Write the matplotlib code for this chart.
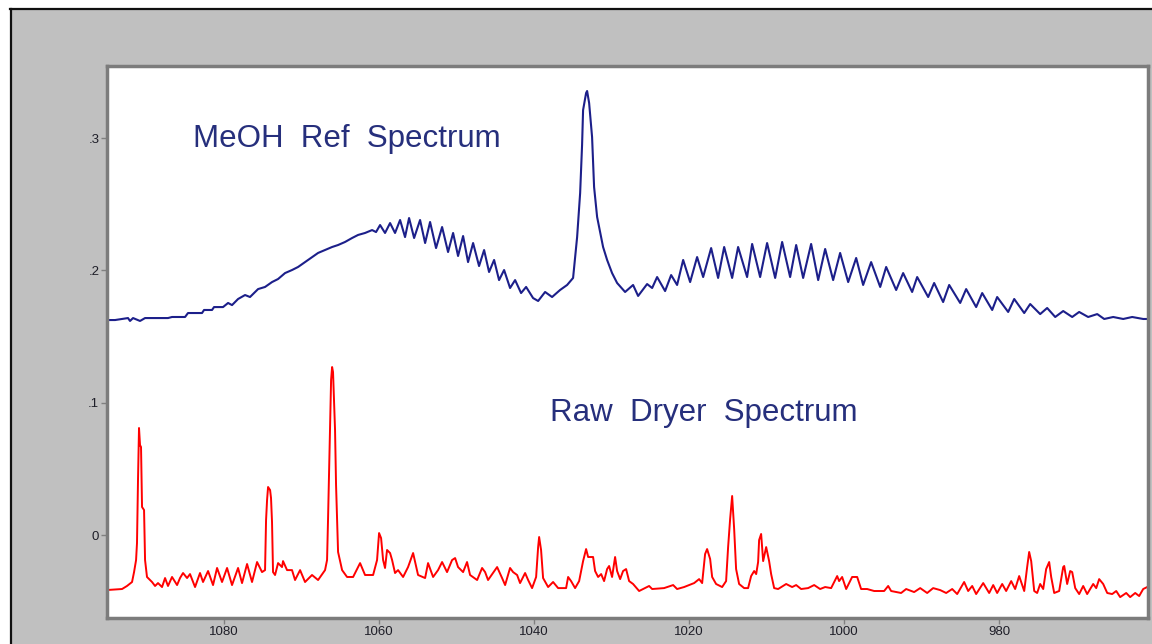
import matplotlib.pyplot as plt
from matplotlib.lines import Line2D
from matplotlib.patches import Rectangle

# MeOH reference spectrum (wavenumber, absorbance)
meoh_wn = [
    1095.23, 1094.06, 1092.39, 1092.13, 1091.74, 1090.84, 1090.19, 1087.23, 1086.71, 1085.03,
    1084.65, 1082.84, 1082.58, 1081.55, 1081.29, 1080.13, 1079.48, 1078.97, 1078.19, 1077.29,
    1076.65, 1075.61, 1074.71, 1073.81, 1073.03, 1072.13, 1071.23, 1070.45, 1069.55, 1068.65,
    1067.87, 1066.97, 1066.06, 1065.29, 1064.39, 1063.48, 1062.71, 1061.81, 1060.90, 1060.39,
    1059.87, 1059.23, 1058.58, 1057.94, 1057.29, 1056.65, 1056.13, 1055.48, 1054.71, 1054.06,
    1053.42, 1052.65, 1051.87, 1051.10, 1050.45, 1049.81, 1049.16, 1048.52, 1047.87, 1047.10,
    1046.45, 1045.81, 1045.16, 1044.52, 1043.87, 1043.10, 1042.45, 1041.68, 1041.03, 1040.13,
    1039.48, 1038.58, 1037.68, 1036.65, 1035.74, 1034.97, 1034.45, 1034.06, 1033.81, 1033.68,
    1033.29, 1033.16, 1032.90, 1032.52, 1032.26, 1031.87, 1031.48, 1031.10, 1030.58, 1029.94,
    1029.29, 1028.26, 1027.23, 1026.58, 1025.42, 1024.77, 1024.13, 1023.10, 1022.32, 1021.55,
    1020.77, 1019.87, 1018.97, 1018.19, 1017.16, 1016.26, 1015.48, 1014.45, 1013.68, 1012.52,
    1011.87, 1010.84, 1009.94, 1008.90, 1008.00, 1006.97, 1006.19, 1005.29, 1004.26, 1003.35,
    1002.45, 1001.42, 1000.52, 999.48, 998.45, 997.55, 996.52, 995.35, 994.58, 993.29,
    992.39, 991.23, 990.58, 989.16, 988.39, 987.23, 986.45, 985.03, 984.26, 982.97,
    982.19, 980.90, 980.26, 978.84, 978.06, 976.77, 976.00, 974.71, 973.81, 972.77,
    971.74, 970.58, 969.68, 968.52, 967.35, 966.45, 965.29, 964.00, 962.84, 961.42,
    960.77,
]
meoh_abs = [
    0.1625, 0.1625, 0.1640, 0.1618, 0.1640, 0.1618, 0.1640, 0.1640, 0.1648, 0.1648,
    0.1678, 0.1678, 0.1701, 0.1701, 0.1723, 0.1723, 0.1754, 0.1738, 0.1784, 0.1814,
    0.1799, 0.1859, 0.1875, 0.1912, 0.1935, 0.1980, 0.2003, 0.2026, 0.2063, 0.2101,
    0.2132, 0.2154, 0.2177, 0.2192, 0.2215, 0.2245, 0.2268, 0.2283, 0.2305, 0.2290,
    0.2343, 0.2283, 0.2358, 0.2283, 0.2381, 0.2252, 0.2396, 0.2245, 0.2381, 0.2207,
    0.2366, 0.2169, 0.2328, 0.2139, 0.2283, 0.2109, 0.2260, 0.2063, 0.2207, 0.2033,
    0.2154, 0.1988, 0.2079, 0.1927, 0.2003, 0.1867, 0.1927, 0.1829, 0.1875, 0.1791,
    0.1769, 0.1837, 0.1799, 0.1852, 0.1890, 0.1943, 0.2252, 0.2585, 0.2948, 0.3212,
    0.3341, 0.3356, 0.3265, 0.3008, 0.2630, 0.2404, 0.2290, 0.2177, 0.2079, 0.1980,
    0.1905, 0.1837, 0.1890, 0.1807, 0.1897, 0.1867, 0.1950, 0.1844, 0.1965, 0.1890,
    0.2079, 0.1912, 0.2101, 0.1950, 0.2169, 0.1943, 0.2177, 0.1943, 0.2177, 0.1950,
    0.2200, 0.1950, 0.2207, 0.1943, 0.2215, 0.1950, 0.2192, 0.1943, 0.2200, 0.1927,
    0.2162, 0.1927, 0.2132, 0.1912, 0.2094, 0.1890, 0.2063, 0.1875, 0.2026, 0.1852,
    0.1980, 0.1837, 0.1950, 0.1799, 0.1905, 0.1761, 0.1890, 0.1754, 0.1859, 0.1723,
    0.1829, 0.1701, 0.1799, 0.1686, 0.1784, 0.1678, 0.1746, 0.1670, 0.1716, 0.1648,
    0.1693, 0.1648, 0.1686, 0.1648, 0.1670, 0.1633, 0.1648, 0.1633, 0.1648, 0.1633,
    0.1633,
]

# Raw dryer spectrum (wavenumber, absorbance)
dryer_wn = [
    1095.23, 1093.16, 1092.52, 1091.87, 1091.61, 1091.35, 1091.23, 1091.10, 1090.97, 1090.84,
    1090.71, 1090.58, 1090.32, 1090.19, 1089.94, 1089.55, 1089.29, 1088.90, 1088.52, 1088.00,
    1087.61, 1087.23, 1086.71, 1086.06, 1085.68, 1085.29, 1084.77, 1084.39, 1083.74, 1083.10,
    1082.71, 1082.06, 1081.42, 1080.90, 1080.26, 1079.61, 1078.97, 1078.19, 1077.68, 1077.03,
    1076.39, 1075.74, 1075.10, 1074.71, 1074.58, 1074.45, 1074.32, 1074.06, 1073.94, 1073.81,
    1073.68, 1073.42, 1073.03, 1072.52, 1072.39, 1071.87, 1071.23, 1070.84, 1070.19, 1069.55,
    1068.65, 1067.87, 1066.97, 1066.71, 1066.58, 1066.32, 1066.19, 1066.06, 1065.94, 1065.81,
    1065.68, 1065.55, 1065.29, 1064.77, 1064.13, 1063.35, 1062.45, 1061.81, 1060.77, 1060.26,
    1060.00, 1059.74, 1059.48, 1059.23, 1058.97, 1058.58, 1058.32, 1057.94, 1057.55, 1056.90,
    1056.26, 1055.61, 1054.97, 1054.06, 1053.68, 1053.03, 1052.39, 1051.87, 1051.23, 1050.58,
    1050.19, 1049.81, 1049.16, 1048.65, 1048.26, 1047.35, 1046.71, 1046.32, 1045.94, 1044.77,
    1044.13, 1043.74, 1043.10, 1042.71, 1042.19, 1041.81, 1041.16, 1040.77, 1040.26, 1039.74,
    1039.48, 1039.35, 1039.10, 1038.84, 1038.19, 1037.55, 1036.90, 1035.87, 1035.61, 1035.23,
    1034.71, 1034.19, 1033.94, 1033.68, 1033.29, 1033.03, 1032.39, 1032.13, 1031.74, 1031.35,
    1030.97, 1030.58, 1030.32, 1029.94, 1029.55, 1029.29, 1028.90, 1028.52, 1028.13, 1027.74,
    1027.23, 1026.45, 1025.16, 1024.77, 1023.23, 1022.06, 1021.55, 1020.65, 1019.35, 1018.71,
    1018.32, 1017.94, 1017.68, 1017.29, 1017.03, 1016.52, 1015.74, 1015.23, 1014.97, 1014.71,
    1014.45, 1014.19, 1013.94, 1013.55, 1012.90, 1012.39, 1012.00, 1011.61, 1011.35, 1011.10,
    1010.97, 1010.71, 1010.45, 1010.06, 1009.68, 1009.42, 1009.03, 1008.52, 1007.48, 1006.71,
    1006.19, 1005.55, 1004.65, 1003.87, 1003.10, 1002.45, 1001.68, 1000.90, 1000.65, 1000.26,
    999.74, 998.97, 998.32, 997.81, 997.03, 996.13, 994.84, 994.32, 993.94, 992.65,
    992.00, 990.97, 990.19, 989.29, 988.52, 987.61, 986.84, 986.06, 985.42, 984.52,
    984.00, 983.48, 982.97, 982.06, 981.29, 980.77, 980.26, 979.61, 979.10, 978.45,
    977.94, 977.42, 976.77, 976.39, 976.13, 975.87, 975.48, 975.10, 974.71, 974.32,
    973.94, 973.55, 973.29, 972.90, 972.26, 971.74, 971.61, 971.23, 970.84, 970.58,
    970.19, 969.68, 969.16, 968.65, 967.87, 967.48, 967.10, 966.58, 966.06, 965.42,
    964.90, 964.39, 963.61, 963.10, 962.45, 961.94, 961.42, 960.90,
]
dryer_abs = [
    -0.0416, -0.0408, -0.0385, -0.0355, -0.0280, -0.0189, -0.0060, 0.0416, 0.0809, 0.0680,
    0.0665, 0.0212, 0.0189, -0.0189, -0.0317, -0.0340, -0.0355, -0.0385, -0.0363, -0.0393,
    -0.0325, -0.0385, -0.0317, -0.0378, -0.0325, -0.0287, -0.0325, -0.0295, -0.0393, -0.0287,
    -0.0355, -0.0272, -0.0378, -0.0249, -0.0355, -0.0249, -0.0378, -0.0249, -0.0363, -0.0219,
    -0.0355, -0.0204, -0.0280, -0.0265, 0.0113, 0.0265, 0.0363, 0.0340, 0.0280, 0.0098,
    -0.0280, -0.0302, -0.0212, -0.0242, -0.0197, -0.0265, -0.0265, -0.0340, -0.0265, -0.0355,
    -0.0302, -0.0340, -0.0265, -0.0189, 0.0128, 0.0831, 0.1172, 0.1270, 0.1232, 0.1020,
    0.0794, 0.0378, -0.0128, -0.0265, -0.0317, -0.0317, -0.0212, -0.0302, -0.0302, -0.0189,
    0.0015, -0.0023, -0.0189, -0.0249, -0.0113, -0.0136, -0.0189, -0.0287, -0.0265, -0.0317,
    -0.0242, -0.0136, -0.0302, -0.0325, -0.0212, -0.0317, -0.0265, -0.0204, -0.0280, -0.0189,
    -0.0174, -0.0242, -0.0280, -0.0204, -0.0302, -0.0340, -0.0249, -0.0280, -0.0340, -0.0242,
    -0.0325, -0.0378, -0.0249, -0.0280, -0.0302, -0.0363, -0.0287, -0.0340, -0.0401, -0.0317,
    -0.0091, -0.0015, -0.0113, -0.0325, -0.0393, -0.0355, -0.0401, -0.0401, -0.0317, -0.0348,
    -0.0401, -0.0348, -0.0272, -0.0197, -0.0106, -0.0166, -0.0166, -0.0272, -0.0317, -0.0295,
    -0.0348, -0.0257, -0.0234, -0.0317, -0.0166, -0.0272, -0.0333, -0.0272, -0.0257, -0.0348,
    -0.0370, -0.0423, -0.0385, -0.0408, -0.0401, -0.0378, -0.0408, -0.0393, -0.0363, -0.0333,
    -0.0363, -0.0144, -0.0106, -0.0181, -0.0317, -0.0370, -0.0393, -0.0348, -0.0091, 0.0121,
    0.0295, 0.0045, -0.0257, -0.0370, -0.0401, -0.0401, -0.0310, -0.0272, -0.0295, -0.0204,
    -0.0038, 0.0008, -0.0197, -0.0091, -0.0197, -0.0295, -0.0401, -0.0408, -0.0370, -0.0393,
    -0.0378, -0.0408, -0.0401, -0.0378, -0.0408, -0.0393, -0.0401, -0.0310, -0.0348, -0.0317,
    -0.0408, -0.0317, -0.0317, -0.0408, -0.0408, -0.0423, -0.0423, -0.0385, -0.0423, -0.0438,
    -0.0408, -0.0431, -0.0401, -0.0438, -0.0401, -0.0416, -0.0438, -0.0408, -0.0446, -0.0355,
    -0.0423, -0.0385, -0.0446, -0.0363, -0.0438, -0.0378, -0.0438, -0.0370, -0.0423, -0.0348,
    -0.0408, -0.0310, -0.0423, -0.0242, -0.0128, -0.0197, -0.0423, -0.0438, -0.0370, -0.0408,
    -0.0257, -0.0204, -0.0317, -0.0438, -0.0423, -0.0242, -0.0234, -0.0370, -0.0272, -0.0280,
    -0.0401, -0.0446, -0.0385, -0.0446, -0.0370, -0.0401, -0.0333, -0.0370, -0.0438, -0.0446,
    -0.0423, -0.0469, -0.0438, -0.0469, -0.0438, -0.0461, -0.0408, -0.0393,
]

x_ticks = [1080, 1060, 1040, 1020, 1000, 980]
y_ticks = [0, 0.1, 0.2, 0.3]
y_tick_labels = ['0', '.1', '.2', '.3']

W, H = 1152, 644
fig = plt.figure(figsize=(W / 100, H / 100), dpi=100, facecolor='white')

# window panel: grey fill with a dark sunken edge along top and left
fig.add_artist(Rectangle((10 / W, 0), 1, 1 - 9 / H, transform=fig.transFigure,
                         facecolor='#c0c0c0', edgecolor='none', zorder=0))
fig.add_artist(Line2D([10 / W, 1], [1 - 9 / H, 1 - 9 / H], transform=fig.transFigure,
                      color='#101010', lw=1.6, zorder=1))
fig.add_artist(Line2D([10.5 / W, 10.5 / W], [0, 1 - 9 / H], transform=fig.transFigure,
                      color='#101010', lw=1.6, zorder=1))

ax = fig.add_axes([107 / W, 1 - 618 / H, (1148 - 107) / W, (618 - 66) / H])
ax.set_facecolor('white')

ax.plot(meoh_wn, meoh_abs, color='#1c1f8a', lw=1.5)
ax.plot(dryer_wn, dryer_abs, color='#ff0000', lw=1.4)

ax.set_xlim(1095.1, 960.8)
ax.set_ylim(-0.0627, 0.3545)

ax.set_xticks(x_ticks)
ax.set_xticklabels([str(t) for t in x_ticks])
ax.set_yticks(y_ticks)
ax.set_yticklabels(y_tick_labels)
ax.tick_params(axis='both', direction='out', length=4, width=1, color='#808080',
               labelsize=9.5, labelcolor='#1e1e28', pad=1.5)
for lbl in ax.get_xticklabels() + ax.get_yticklabels():
    lbl.set_family('Liberation Sans')

for s in ax.spines.values():
    s.set_color('#7c7c7c')
    s.set_linewidth(2.5)

ax.text(1084.0, 0.2933, 'MeOH  Ref  Spectrum', fontsize=22.5, family='Liberation Sans',
        color='#262f7c', va='baseline', ha='left')
ax.text(1037.9, 0.0862, 'Raw  Dryer  Spectrum', fontsize=22.5, family='Liberation Sans',
        color='#262f7c', va='baseline', ha='left')

fig.savefig('out.png', dpi=100, facecolor=fig.get_facecolor())
